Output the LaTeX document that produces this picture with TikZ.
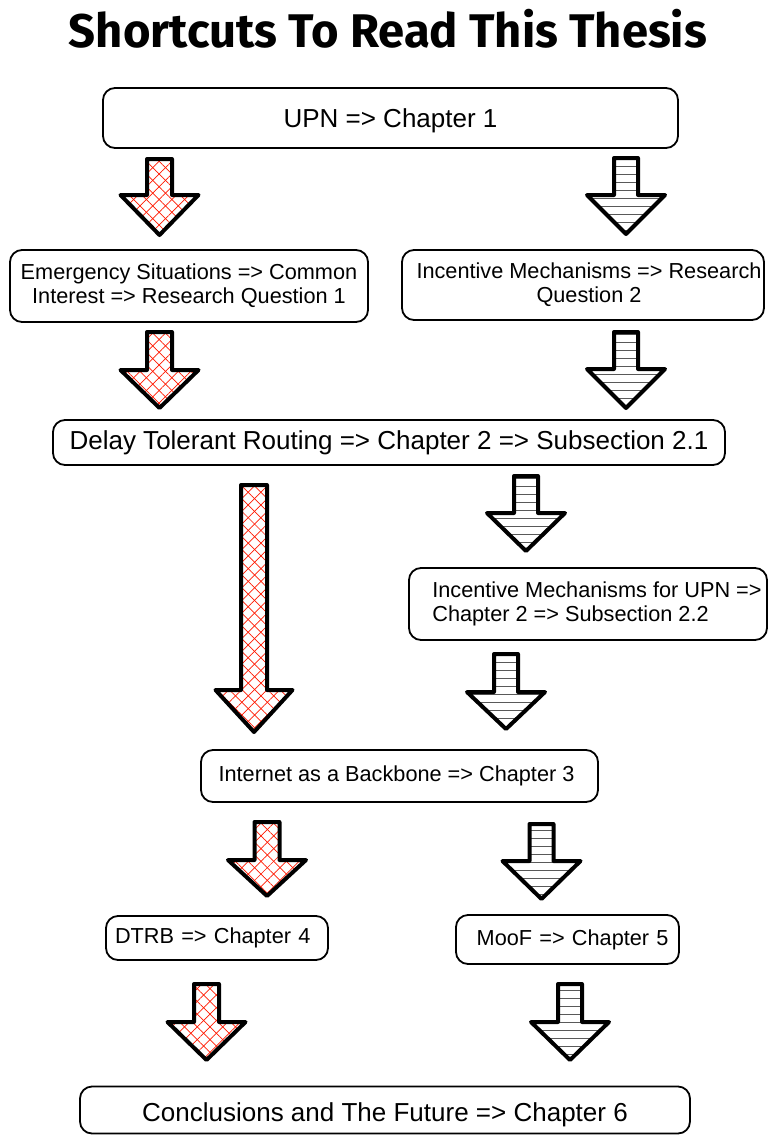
\documentclass[tikz,border=0pt]{standalone}
\usepackage{fontspec}
\setmainfont{Liberation Sans}
\newfontfamily\titlefont{Fira Sans}
\usetikzlibrary{patterns.meta}
\tikzset{
  box/.style={draw=black, line width=1.8pt, rounded corners=12pt, inner sep=0pt, fill=white},
  smalltext/.style={font=\fontsize{21.7}{24}\selectfont},
  bigtext/.style={font=\fontsize{26}{30}\selectfont},
  outline/.style={draw=black, line width=4pt, line join=round},
  redhatchA/.style={pattern={Lines[angle=45,distance=9pt,line width=0.7pt]}, pattern color=red!80!orange},
  redhatchB/.style={pattern={Lines[angle=-45,distance=9pt,line width=0.7pt]}, pattern color=red!80!orange},
  grayhatch/.style={pattern={Lines[angle=0,distance=8pt,line width=1pt]}, pattern color=black!65},
}
% #1 cx, #2 ytop, #3 yhead, #4 ytip, #5 half shaft, #6 half head
\newcommand\arrowpath[6]{({#1-#5},#2) -- ({#1+#5},#2) -- ({#1+#5},#3) -- ({#1+#6},#3) -- (#1,#4) -- ({#1-#6},#3) -- ({#1-#5},#3) -- cycle}
\newcommand\redarrow[6]{%
  \fill[white] \arrowpath{#1}{#2}{#3}{#4}{#5}{#6};
  \path[redhatchA] \arrowpath{#1}{#2}{#3}{#4}{#5}{#6};
  \path[redhatchB] \arrowpath{#1}{#2}{#3}{#4}{#5}{#6};
  \path[outline] \arrowpath{#1}{#2}{#3}{#4}{#5}{#6};}
\newcommand\grayarrow[6]{%
  \fill[white] \arrowpath{#1}{#2}{#3}{#4}{#5}{#6};
  \path[grayhatch] \arrowpath{#1}{#2}{#3}{#4}{#5}{#6};
  \path[outline] \arrowpath{#1}{#2}{#3}{#4}{#5}{#6};}
\begin{document}
\begin{tikzpicture}[x=1pt,y=-1pt]
\useasboundingbox (0,0) rectangle (769,1135);
\fill[white] (0,0) rectangle (769,1135);
% title
\node[font=\titlefont\bfseries\fontsize{47.2}{50}\selectfont, anchor=base] (title) at (388,47) {Shortcuts To Read This Thesis};
% boxes
\node[box, bigtext, minimum width=575pt, minimum height=60pt] (upn) at (390.5,118) {\raisebox{0pt}[\dimexpr\height+6pt\relax]{UPN => Chapter 1}};
\node[box, smalltext, minimum width=358pt, minimum height=72pt, align=center] (emerg) at (189,286) {Emergency Situations => Common\\Interest => Research Question 1};
\node[box, smalltext, minimum width=362pt, minimum height=70pt, align=center] (incent) at (583,285) {\hspace*{12pt}Incentive Mechanisms => Research\\\hspace*{12pt}Question 2};
\node[box, bigtext, minimum width=672pt, minimum height=45pt] (dtr) at (389,442.5) {Delay Tolerant Routing => Chapter 2 => Subsection 2.1};
\node[box, smalltext, minimum width=358pt, minimum height=72pt, align=left] (incupn) at (588,604) {\hspace*{18pt}Incentive Mechanisms for UPN =>\\\hspace*{18pt}Chapter 2 => Subsection 2.2};
\node[box, smalltext, minimum width=397pt, minimum height=52pt] (inet) at (399.5,776) {\hspace*{-6pt}Internet as a Backbone => Chapter 3};
\node[box, smalltext, minimum width=222pt, minimum height=44pt, text width=204pt, align=left] (dtrb) at (217,938) {DTRB => Chapter 4};
\node[box, smalltext, minimum width=223pt, minimum height=49pt, text width=202pt, align=right] (moof) at (567.5,939.5) {MooF => Chapter 5};
\node[box, bigtext, minimum width=610pt, minimum height=47pt] (concl) at (385,1110) {\raisebox{0pt}[\dimexpr\height+10pt\relax]{Conclusions and The Future => Chapter 6}};
% arrows
\redarrow{159.5}{159}{195}{235}{12.5}{39}
\redarrow{159.5}{332}{370}{408}{12.5}{39}
\redarrow{254}{485}{690}{732}{13}{38.5}
\redarrow{267}{822}{860}{896}{12.5}{39}
\redarrow{206.5}{984}{1022}{1060}{12.5}{39}
\grayarrow{626}{158}{195}{234}{12}{39}
\grayarrow{626}{332}{369}{408}{12}{39}
\grayarrow{526}{476}{513}{551}{12}{39}
\grayarrow{506}{654}{692}{729}{12}{39}
\grayarrow{541.5}{824}{861}{899}{12}{39}
\grayarrow{570}{984}{1022}{1060}{12}{39}
\end{tikzpicture}
\end{document}
